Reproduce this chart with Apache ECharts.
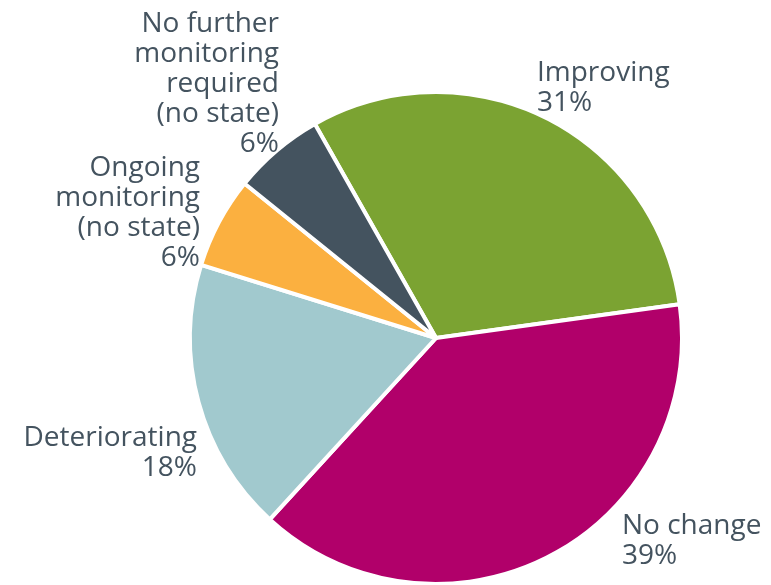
<!DOCTYPE html>
<html>
<head>
<meta charset="utf-8">
<script src="https://cdn.jsdelivr.net/npm/echarts@6/dist/echarts.min.js"></script>
<style>html,body{margin:0;padding:0;background:#fff}#chart{width:771px;height:585px}</style>
</head>
<body>
<div id="chart"></div>
<script>
const categories = ['Improving', 'No change', 'Deteriorating', 'Ongoing\nmonitoring\n(no state)', 'No further\nmonitoring\nrequired\n(no state)'];
const values = [31, 39, 18, 6, 6];
const colors = ['#7BA332', '#B1006A', '#A1C9CE', '#FBB040', '#44535F'];

// label anchor positions (layout only)
const labelPos = [
  {x: 537, y: 58, align: 'left'},
  {x: 622, y: 511, align: 'left'},
  {x: 197, y: 423, align: 'right'},
  {x: 200, y: 153, align: 'right'},
  {x: 279, y: 9, align: 'right'}
];

const chart = echarts.init(document.getElementById('chart'), null, {renderer: 'canvas'});
chart.setOption({
  animation: false,
  series: [{
    type: 'pie',
    center: [436, 338],
    radius: [0, 246],
    startAngle: 119.5,
    clockwise: true,
    avoidLabelOverlap: false,
    data: categories.map((c, i) => ({name: c, value: values[i], itemStyle: {color: colors[i]}})),
    itemStyle: {borderColor: '#ffffff', borderWidth: 4},
    label: {
      show: true,
      position: 'outside',
      formatter: p => p.name + '\n' + p.value + '%',
      fontFamily: 'Open Sans',
      fontSize: 28,
      lineHeight: 30,
      color: '#44535F'
    },
    labelLine: {show: false},
    labelLayout: function (params) {
      const p = labelPos[params.dataIndex];
      return {x: p.x, y: p.y, align: p.align, verticalAlign: 'top'};
    },
    emphasis: {disabled: true}
  }]
});
</script>
</body>
</html>
